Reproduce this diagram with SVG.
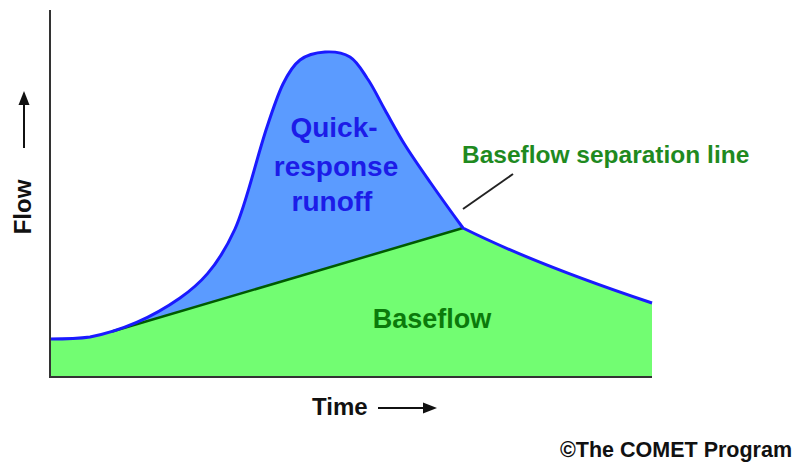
<svg xmlns="http://www.w3.org/2000/svg" width="798" height="470" viewBox="0 0 798 470">
<style>
text{font-family:"Liberation Sans",Arial,sans-serif;font-weight:bold}
.ax{stroke:#333;stroke-width:2;fill:none}
.ar{stroke:#111;stroke-width:2;fill:none}
.hd{fill:#111}
</style>
<rect width="798" height="470" fill="#fff"/>
<g id="quickflow">
<path fill="#5b9bff" d="M50,339 C56.67,339 75.83,339 90,337 C120,331 150,319 180,298 C198,285.4 217,268.6 235,229 C246,205 256,160 267,127 C272.17,111.33 277.5,95.17 283,84 C288.5,72.83 293,65.33 300,60 C307,54.67 316.67,52.5 325,52 C333.33,51.5 343,52.67 350,57 C357,61.33 361.17,69.17 367,78 C373.33,86.83 378.67,98.83 385,110 C391.33,121.17 397.5,133 405,145 C412.5,157 420.33,168.17 430,182 C439.67,195.83 452,213 463,228 L463,377 L50,377 Z"/>
<text x="334" y="137" font-size="28" fill="#1c1ce8" text-anchor="middle">Quick-</text>
<text x="336" y="176" font-size="28" fill="#1c1ce8" text-anchor="middle">response</text>
<text x="332" y="211" font-size="28" fill="#1c1ce8" text-anchor="middle">runoff</text>
</g>
<g id="baseflow">
<path fill="#72fd72" d="M50,377 L50,339 C56.67,339 75.83,339 90,337 L112,331.5 L463,228 C523,258 592,283 652,303 L652,377 Z"/>
<text x="432" y="328" font-size="27" fill="#0b7a0b" text-anchor="middle">Baseflow</text>
</g>
<g id="connectors">
<path d="M112,331.5 L463,228" stroke="#005a00" stroke-width="2.5" fill="none"/>
<path fill="none" stroke="#1a1aff" stroke-width="3" stroke-linejoin="round" d="M50,339 C56.67,339 75.83,339 90,337 C120,331 150,319 180,298 C198,285.4 217,268.6 235,229 C246,205 256,160 267,127 C272.17,111.33 277.5,95.17 283,84 C288.5,72.83 293,65.33 300,60 C307,54.67 316.67,52.5 325,52 C333.33,51.5 343,52.67 350,57 C357,61.33 361.17,69.17 367,78 C373.33,86.83 378.67,98.83 385,110 C391.33,121.17 397.5,133 405,145 C412.5,157 420.33,168.17 430,182 C439.67,195.83 452,213 463,228 C523,258 592,283 652,303"/>
<path d="M463,209 L513,174" stroke="#222" stroke-width="2" fill="none"/>
<path class="ax" d="M50,10 L50,377 L652,377"/>
<path class="ar" d="M24,148 L24,102"/>
<path class="hd" d="M24,91 L29.5,105 L18.5,105 Z"/>
<path class="ar" d="M378,408 L424,408"/>
<path class="hd" d="M437,408 L423,402.5 L423,413.5 Z"/>
</g>
<g id="labels">
<text x="462" y="163" font-size="24.5" fill="#1f8a1f">Baseflow separation line</text>
<text transform="translate(31,207) rotate(-90)" font-size="24" fill="#111" text-anchor="middle">Flow</text>
<text x="312" y="415" font-size="24" fill="#111">Time</text>
<text x="560" y="457" font-size="21.5" fill="#111">©The COMET Program</text>
</g>
</svg>
